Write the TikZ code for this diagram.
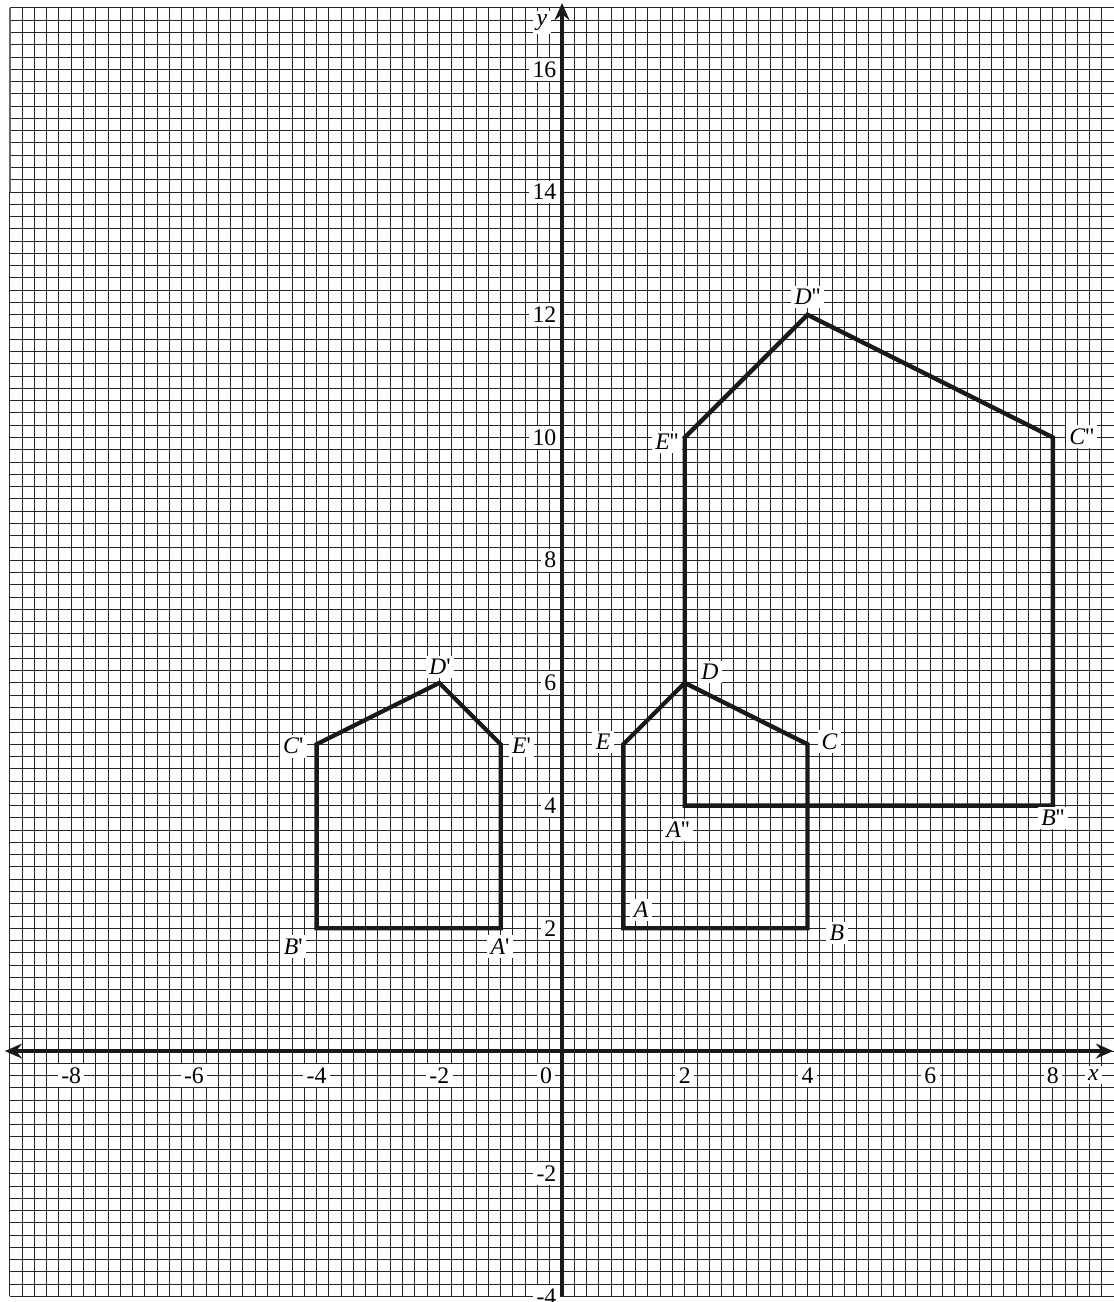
\documentclass[tikz,border=0pt]{standalone}
\usepackage{fontspec}
\setmainfont{Liberation Serif}
\usetikzlibrary{arrows.meta}
\newcommand\pq{\textquotesingle}
\begin{document}
\begin{tikzpicture}[
  gridline/.style={line width=0.45pt, draw=black!85},
  axisline/.style={line width=1.7pt, draw=black!90},
  shapeline/.style={line width=2.0pt, draw=black!90, line join=miter},
  lbl/.style={fill=white, inner sep=1.6pt, font=\fontsize{11}{13}\selectfont},
  axtip/.tip={Stealth[length=8pt,width=7pt,inset=2.8pt]}
]
\useasboundingbox (-9.16,-4.09) rectangle (8.98,17.13);
% grid
\draw[gridline, step=0.2] (-9,-4) grid (9,17);
\draw[line width=0.9pt, draw=black!60] (-9,14) -- (-9,17);
% axes
\coordinate (xl) at (-9.08,0);
\coordinate (xr) at (8.98,0);
\coordinate (yb) at (0,-4);
\coordinate (yt) at (0,17.08);
\draw[axisline, axtip-axtip] (xl) -- (xr);
\draw[axisline, -axtip] (yb) -- (yt);
% tick labels
\foreach \k in {-8,-6,-4,-2,2,4,6,8}
  \node[lbl] (xt\k) at (\k,-0.4) {\k};
\node[lbl] (xt0) at (-0.26,-0.4) {0};
\foreach \k in {-4,-2,2,4,6,8,10,12,14,16}
  \node[lbl, anchor=east] (yt\k) at (-0.03,\k) {\k};
\node[lbl] (xname) at (8.66,-0.39) {\textit{x}};
\node[lbl] (yname) at (-0.33,16.76) {\textit{y}};
% polygon ABCDE
\coordinate (A) at (1,2);
\coordinate (B) at (4,2);
\coordinate (C) at (4,5);
\coordinate (D) at (2,6);
\coordinate (E) at (1,5);
\draw[shapeline] (A) -- (B) -- (C) -- (D) -- (E) -- cycle;
% polygon A'B'C'D'E'
\coordinate (A1) at (-1,2);
\coordinate (B1) at (-4,2);
\coordinate (C1) at (-4,5);
\coordinate (D1) at (-2,6);
\coordinate (E1) at (-1,5);
\draw[shapeline] (A1) -- (B1) -- (C1) -- (D1) -- (E1) -- cycle;
% polygon A''B''C''D''E''
\coordinate (A2) at (2,4);
\coordinate (B2) at (8,4);
\coordinate (C2) at (8,10);
\coordinate (D2) at (4,12);
\coordinate (E2) at (2,10);
\draw[shapeline] (A2) -- (B2) -- (C2) -- (D2) -- (E2) -- cycle;
% vertex labels
\node[lbl] (lA) at (1.29,2.3) {\textit{A}};
\node[lbl] (lB) at (4.48,1.92) {\textit{B}};
\node[lbl] (lC) at (4.36,5.04) {\textit{C}};
\node[lbl] (lD) at (2.41,6.18) {\textit{D}};
\node[lbl] (lE) at (0.67,5.04) {\textit{E}};
\node[lbl] (lA1) at (-1.01,1.7) {\textit{A}\pq};
\node[lbl] (lB1) at (-4.38,1.7) {\textit{B}\pq};
\node[lbl] (lC1) at (-4.38,4.97) {\textit{C}\pq};
\node[lbl] (lD1) at (-1.99,6.26) {\textit{D}\pq};
\node[lbl] (lE1) at (-0.66,4.97) {\textit{E}\pq};
\node[lbl] (lA2) at (1.89,3.6) {\textit{A}\pq\pq};
\node[lbl] (lB2) at (8.0,3.8) {\textit{B}\pq\pq};
\node[lbl] (lC2) at (8.47,10.01) {\textit{C}\pq\pq};
\node[lbl] (lD2) at (4.0,12.29) {\textit{D}\pq\pq};
\node[lbl] (lE2) at (1.71,9.93) {\textit{E}\pq\pq};
\end{tikzpicture}
\end{document}
